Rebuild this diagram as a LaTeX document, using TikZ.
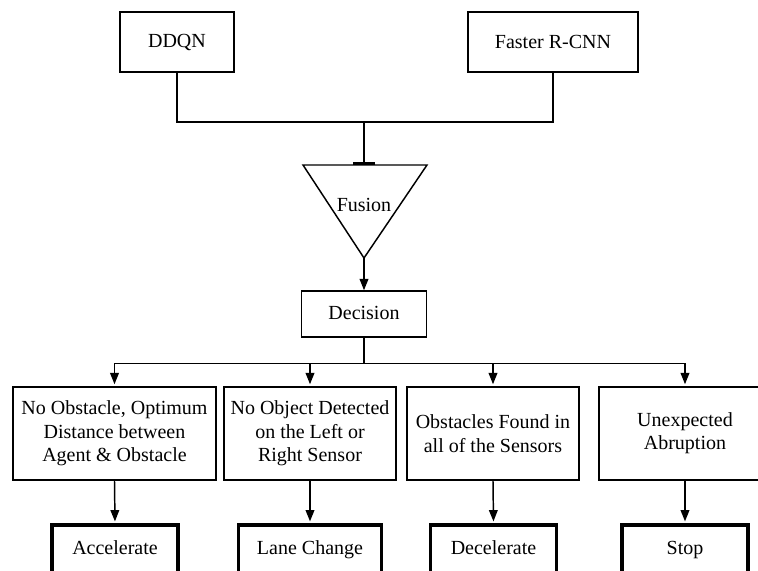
\documentclass[tikz,border=0pt]{standalone}
\usepackage{fontspec}
\setmainfont{Liberation Serif}
\usetikzlibrary{arrows.meta}
\begin{document}
\begin{tikzpicture}[x=0.75pt,y=-0.75pt,>={Triangle[width=6.5pt,length=8.5pt]},line width=1.1pt,font=\fontsize{15}{17.5}\selectfont]
  \tikzset{
    box/.style={draw,align=center,inner sep=2pt},
    onebox/.style={box,text height=2.2ex,text depth=0.5ex},
    outbox/.style={onebox,line width=2.4pt,minimum height=36pt},
  }
  \clip (0,0) rectangle (758,571);
  \useasboundingbox (0,0) rectangle (758,571);

  \node[box,minimum width=85.5pt,minimum height=45pt] (ddqn) at (177,42) {DDQN};
  \node[box,minimum width=127.5pt,minimum height=45pt] (frcnn) at (553,42) {Faster R-CNN};
  \coordinate (join) at (364,122);
  \coordinate (ftop) at (364,165);
  \coordinate (fleft) at (303,165);
  \coordinate (fright) at (427,165);
  \coordinate (fapex) at (364,258);
  \node (fusion) at (364,205) {Fusion};
  \node[onebox,minimum width=93.75pt,minimum height=34.5pt] (decision) at (364,314) {Decision};

  \draw (ddqn.south) |- (join) -| (frcnn.south);
  \draw[-{Bar[width=17pt,line width=2.2pt]}] (join) -- (ftop);
  \draw[line join=miter] (fleft) -- (fright) -- (fapex) -- cycle;
  \draw[->] (fapex) -- (decision.north);

  \node[box,minimum width=152.25pt,minimum height=69.75pt] (c1) at (114.5,433.5) {No Obstacle, Optimum\\Distance between\\Agent \& Obstacle};
  \node[box,minimum width=129pt,minimum height=69.75pt] (c2) at (310,433.5) {No Object Detected\\on the Left or\\Right Sensor};
  \node[box,minimum width=129pt,minimum height=69.75pt] (c3) at (493,433.5) {Obstacles Found in\\all of the Sensors};
  \node[box,minimum width=129pt,minimum height=69.75pt] (c4) at (685,433.5) {Unexpected\\Abruption};

  \node[outbox,minimum width=94.5pt] (a1) at (115,549) {Accelerate};
  \node[outbox,minimum width=107pt] (a2) at (310,549) {Lane Change};
  \node[outbox,minimum width=94pt] (a3) at (493.5,549) {Decelerate};
  \node[outbox,minimum width=94.5pt] (a4) at (685,549) {Stop};

  \foreach \n in {1,2,3,4} {
    \draw[->,shorten >=1.5pt] (decision.south) -- ++(0,26) -| (c\n.north);
    \draw[->,shorten >=1.5pt] (c\n.south) -- (a\n.north);
  }
\end{tikzpicture}
\end{document}
